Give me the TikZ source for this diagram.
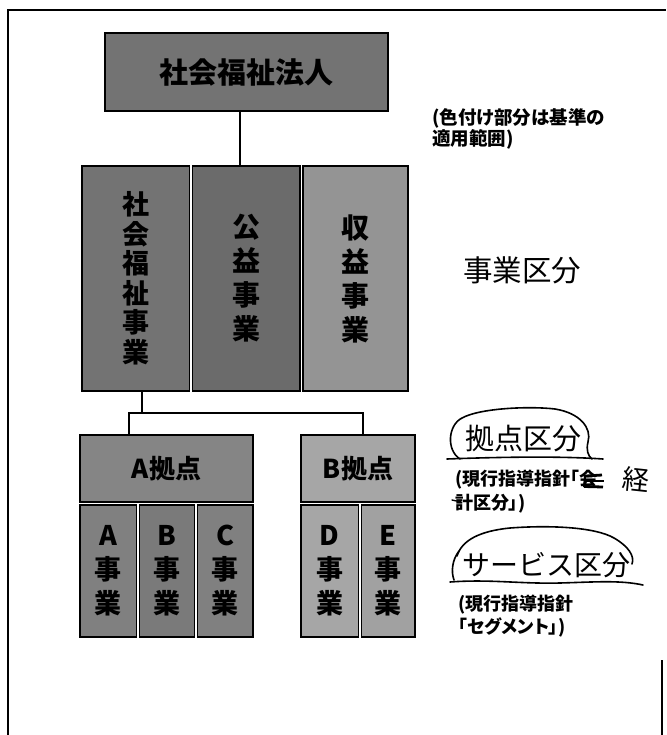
\documentclass[tikz,border=0pt]{standalone}
\usepackage{fontspec}
\setmainfont{Noto Sans CJK JP}
\tikzset{
  blk/.style={draw=black, line width=1.8pt, rectangle, inner sep=0pt, align=center, text=black},
  conn/.style={draw=black, line width=1.8pt},
  note/.style={inner sep=0pt, align=left, anchor=west},
  lab/.style={inner sep=0pt},
  hand/.style={draw=black, line width=1.6pt, line cap=round, line join=round},
  frame/.style={draw=black, line width=2pt},
}
\begin{document}
\begin{tikzpicture}[x=1pt,y=-1pt]
\useasboundingbox (0,0) rectangle (666,735);
\fill[white] (0,0) rectangle (666,735);

% outer frame
\draw[frame] (8,735) -- (8,10) -- (666,10);
\draw[frame] (662,660) -- (662,735);

% corporation
\node[blk, fill=black!55, minimum width=283pt, minimum height=78pt,
      font=\bfseries\fontsize{29}{30}\selectfont] (corp) at (246.5,72) {社会福祉法人};

% business categories
\node[blk, fill=black!55, minimum width=107.5pt, minimum height=225pt,
      font=\bfseries\fontsize{27}{29.5}\selectfont] (sw) at (135.75,278.5) {社\\会\\福\\祉\\事\\業};
\node[blk, fill=black!58, minimum width=107.5pt, minimum height=225pt,
      font=\bfseries\fontsize{28}{34}\selectfont] (pub) at (246.25,278.5) {公\\益\\事\\業};
\node[blk, fill=black!42, minimum width=105pt, minimum height=225pt,
      font=\bfseries\fontsize{28}{34}\selectfont] (prof) at (355.5,278.5) {収\\益\\事\\業};

% base A
\node[blk, fill=black!48, minimum width=173pt, minimum height=67pt,
      font=\bfseries\fontsize{26}{28}\selectfont] (ah) at (166.5,468.5) {A拠点};
\node[blk, fill=black!50, minimum width=56.5pt, minimum height=132pt,
      font=\bfseries\fontsize{27}{34}\selectfont] (ca) at (108.25,571) {A\\事\\業};
\node[blk, fill=black!52, minimum width=55pt, minimum height=132pt,
      font=\bfseries\fontsize{27}{34}\selectfont] (cb) at (167,571) {B\\事\\業};
\node[blk, fill=black!50, minimum width=55.5pt, minimum height=132pt,
      font=\bfseries\fontsize{27}{34}\selectfont] (cc) at (225.25,571) {C\\事\\業};

% base B
\node[blk, fill=black!35, minimum width=114pt, minimum height=67pt,
      font=\bfseries\fontsize{26}{28}\selectfont] (bh) at (358,468.5) {B拠点};
\node[blk, fill=black!35, minimum width=57.5pt, minimum height=132pt,
      font=\bfseries\fontsize{27}{34}\selectfont] (cd) at (329.75,571) {D\\事\\業};
\node[blk, fill=black!37, minimum width=53.5pt, minimum height=132pt,
      font=\bfseries\fontsize{27}{34}\selectfont] (ce) at (388.25,571) {E\\事\\業};

% connectors
\draw[conn] ([xshift=-6.5pt]corp.south) -- ([xshift=-6.5pt]corp.south |- pub.north);
\coordinate (jm) at (142,413);
\coordinate (jl) at (129,413);
\coordinate (jr) at (363,413);
\draw[conn] (sw.south -| jm) -- (jm);
\draw[conn] (ah.north -| jl) -- (jl) -- (jr) -- (bh.north -| jr);

% right-hand labels
\node[lab, font=\fontsize{29.5}{30}\selectfont] (jk) at (522,270) {事業区分};
\node[lab, font=\fontsize{29}{30}\selectfont] (kk) at (523,439) {拠点区分};
\node[lab, font=\fontsize{28}{30}\selectfont] (sk) at (546,565) {サービス区分};

% notes
\node[note, font=\bfseries\fontsize{18.5}{19.5}\selectfont\addfontfeature{RawFeature=+palt}] (n1) at (432,129)
  {(色付け部分は基準の\\適用範囲)};
\node[note, font=\bfseries\fontsize{18}{24}\selectfont\addfontfeature{RawFeature=+palt}] (n2) at (455,492)
  {(現行指導指針「会\\計区分」)};
\node[note, font=\bfseries\fontsize{18}{23}\selectfont\addfontfeature{RawFeature=+palt}] (n3) at (458,616)
  {(現行指導指針\\「セグメント」)};

% handwritten corrections
\draw[line width=2.8pt] (586,476) -- (602,475);
\draw[line width=2.8pt] (584,481) -- (604,481);
\draw[line width=2.8pt] (584,486.5) -- (603,487);
\draw[line width=2pt] (585,476) -- (584,487);
\draw[hand, line width=1.4pt] (452,500) -- (461,502);
\node[lab, rotate=-6, font=\fontsize{27}{28}\selectfont] (kei) at (636,480) {経};

% hand-drawn ellipse around 拠点区分
\draw[hand] (447,459) .. controls (500,457) and (560,456) .. (603,459);
\draw[hand] (460,459) .. controls (446,450) and (448,425) .. (462,418)
  .. controls (480,408) and (530,406) .. (555,409)
  .. controls (580,413) and (592,428) .. (588,442)
  .. controls (586,450) and (588,456) .. (592,459);

% hand-drawn ellipse around サービス区分
\draw[hand] (459,551) .. controls (452,560) and (451,572) .. (454,580);
\draw[hand] (457,556) .. controls (462,540) and (480,531) .. (510,528)
  .. controls (550,525) and (595,527) .. (614,538)
  .. controls (628,546) and (635,556) .. (632,564);
\draw[hand] (450,582) .. controls (490,579) and (520,584) .. (560,583)
  .. controls (595,582) and (620,580) .. (643,585);
\end{tikzpicture}
\end{document}
